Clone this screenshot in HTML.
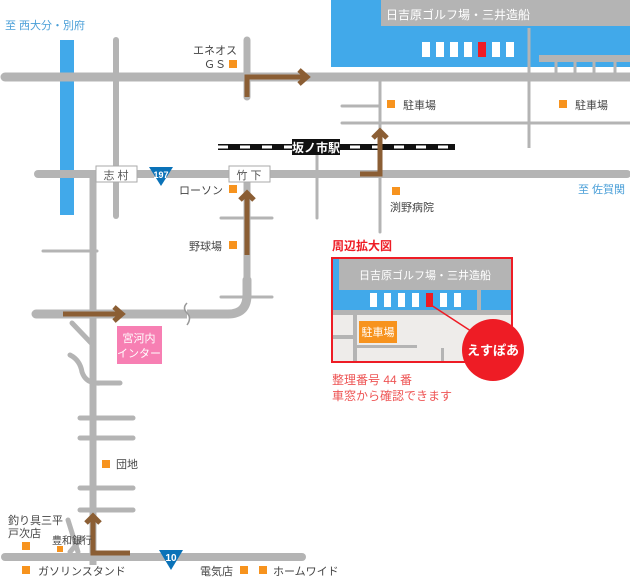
<!DOCTYPE html>
<html><head><meta charset="utf-8"><style>
body{margin:0;background:#fff}
svg text{font-family:"Liberation Sans","Noto Sans CJK JP",sans-serif}
</style></head><body>
<svg width="630" height="580" viewBox="0 0 630 580" xmlns="http://www.w3.org/2000/svg">
<rect width="630" height="580" fill="#fff"/>
<!-- sea -->
<rect x="331" y="0" width="299" height="67" fill="#41a9ea"/>
<rect x="381" y="0" width="249" height="26" fill="#b4b4b4"/>
<text x="458" y="19" font-size="12" fill="#fff" text-anchor="middle">日吉原ゴルフ場・三井造船</text>
<g fill="#fff"><rect x="422" y="42" width="8" height="15"/><rect x="436" y="42" width="8" height="15"/><rect x="450" y="42" width="8" height="15"/><rect x="464" y="42" width="8" height="15"/><rect x="492" y="42" width="8" height="15"/><rect x="506" y="42" width="8" height="15"/></g>
<rect x="478" y="42" width="8" height="15" fill="#ee1c25"/>
<line x1="529" y1="28" x2="529" y2="148" stroke="#b4b4b4" stroke-width="3"/>
<rect x="539" y="55" width="91" height="7" fill="#b4b4b4"/>
<g stroke="#b4b4b4" stroke-width="3"><line x1="556" y1="62" x2="556" y2="77"/><line x1="575" y1="62" x2="575" y2="77"/><line x1="594" y1="62" x2="594" y2="77"/><line x1="615" y1="62" x2="615" y2="77"/></g>
<!-- river -->
<rect x="60" y="40" width="14" height="175" fill="#41a9ea"/>
<!-- roads -->
<g stroke="#b4b4b4" stroke-linecap="round" fill="none">
<line x1="5" y1="77" x2="630" y2="77" stroke-width="9"/>
<line x1="38" y1="174" x2="627" y2="174" stroke-width="8"/>
<line x1="116" y1="40" x2="116" y2="216" stroke-width="6"/>
<line x1="247" y1="40" x2="247" y2="97" stroke-width="7"/>
<line x1="247" y1="174" x2="247" y2="285" stroke-width="7"/>
<path d="M36 314 H228 Q247 314 247 295 V280" stroke-width="9"/>
<line x1="93" y1="178" x2="93" y2="565" stroke-width="7" stroke-linecap="butt"/>
<line x1="5" y1="557" x2="302" y2="557" stroke-width="8"/>
<g stroke-width="3">
<line x1="380" y1="80" x2="380" y2="232"/>
<line x1="317" y1="148" x2="317" y2="218"/>
<line x1="342" y1="106" x2="380" y2="106"/>
<line x1="342" y1="123" x2="630" y2="123"/>
<line x1="43" y1="251" x2="97" y2="251"/>
<line x1="221" y1="218" x2="272" y2="218"/>
<line x1="221" y1="297" x2="272" y2="297"/>
</g>
<g stroke-width="5">
<line x1="80" y1="418" x2="133" y2="418"/>
<line x1="80" y1="438" x2="133" y2="438"/>
<line x1="80" y1="488" x2="133" y2="488"/>
<line x1="80" y1="510" x2="133" y2="510"/>
<line x1="93" y1="383" x2="120" y2="383"/>
<line x1="72" y1="323" x2="93" y2="345"/>
<path d="M70 355 Q80 360 82 372 Q86 384 100 383"/>
<line x1="68" y1="520" x2="78" y2="552"/>
<line x1="82" y1="538" x2="70" y2="552"/>
</g>
</g>
<path d="M187 303 q-5 5 0 10 q5 5 0 12" stroke="#999" stroke-width="1.5" fill="#fff"/>
<!-- railway -->
<line x1="218" y1="147" x2="455" y2="147" stroke="#111" stroke-width="6"/>
<line x1="218" y1="147" x2="455" y2="147" stroke="#fff" stroke-width="3" stroke-dasharray="10 12"/>
<rect x="292" y="139" width="48" height="16" fill="#111"/>
<text x="316" y="152" font-size="12" font-weight="bold" fill="#fff" text-anchor="middle">坂ノ市駅</text>
<!-- route badges -->
<path d="M149 167 H173 L161 186 Z" fill="#0a72b8"/>
<text x="161" y="178" font-size="9" font-weight="bold" fill="#fff" text-anchor="middle">197</text>
<path d="M159 550 H183 L171 570 Z" fill="#0a72b8"/>
<text x="171" y="561" font-size="10" font-weight="bold" fill="#fff" text-anchor="middle">10</text>
<!-- intersection labels -->
<rect x="96" y="166" width="41" height="16" fill="#fff" stroke="#aaa"/>
<text x="116" y="179" font-size="11" fill="#555" text-anchor="middle">志 村</text>
<rect x="229" y="166" width="41" height="16" fill="#fff" stroke="#aaa"/>
<text x="249" y="179" font-size="11" fill="#555" text-anchor="middle">竹 下</text>
<!-- arrows -->
<g stroke="#8b5e34" stroke-width="5" fill="none" stroke-linejoin="miter">
<path d="M247 97 V77 H305"/><path d="M299 70 L307 77 L299 84"/>
<path d="M360 174 H380 V132"/><path d="M373 138 L380 131 L387 138"/>
<path d="M247 255 V194"/><path d="M240 200 L247 193 L254 200"/>
<path d="M63 314 H121"/><path d="M114 307 L122 314 L114 321"/>
<path d="M130 553 H93 V517"/><path d="M86 523 L93 516 L100 523"/>
</g>
<!-- interchange -->
<rect x="117" y="326" width="45" height="38" fill="#f77fb3"/>
<text x="139" y="342" font-size="11" fill="#fff" text-anchor="middle">宮河内</text>
<text x="139" y="357" font-size="11" fill="#fff" text-anchor="middle">インター</text>
<!-- markers -->
<g fill="#f7931e">
<rect x="229" y="60" width="8" height="8"/>
<rect x="229" y="185" width="8" height="8"/>
<rect x="229" y="241" width="8" height="8"/>
<rect x="387" y="100" width="8" height="8"/>
<rect x="559" y="100" width="8" height="8"/>
<rect x="392" y="187" width="8" height="8"/>
<rect x="102" y="460" width="8" height="8"/>
<rect x="22" y="542" width="8" height="8"/>
<rect x="57" y="546" width="6" height="6"/>
<rect x="22" y="566" width="8" height="8"/>
<rect x="240" y="566" width="8" height="8"/>
<rect x="259" y="566" width="8" height="8"/>
</g>
<g font-size="11" fill="#444">
<text x="237" y="54" text-anchor="end">エネオス</text>
<text x="226" y="68" text-anchor="end">ＧＳ</text>
<text x="223" y="194" text-anchor="end">ローソン</text>
<text x="222" y="250" text-anchor="end">野球場</text>
<text x="403" y="109">駐車場</text>
<text x="575" y="109">駐車場</text>
<text x="390" y="211">渕野病院</text>
<text x="116" y="468">団地</text>
<text x="8" y="524">釣り具三平</text>
<text x="8" y="537">戸次店</text>
<text x="52" y="544" font-size="10">豊和銀行</text>
<text x="38" y="575">ガソリンスタンド</text>
<text x="200" y="575">電気店</text>
<text x="273" y="575">ホームワイド</text>
</g>
<text x="5" y="29" font-size="11" fill="#4a9fd8">至 西大分・別府</text>
<text x="578" y="193" font-size="11" fill="#4a9fd8">至 佐賀関</text>
<!-- inset -->
<text x="332" y="250" font-size="12" font-weight="bold" fill="#ee1c25">周辺拡大図</text>
<rect x="332" y="258" width="180" height="104" fill="#eeecea" stroke="#ee1c25" stroke-width="2"/>
<rect x="333" y="259" width="178" height="51" fill="#41a9ea"/>
<rect x="339" y="259" width="172" height="31" fill="#b4b4b4"/>
<text x="425" y="279" font-size="11" fill="#fff" text-anchor="middle">日吉原ゴルフ場・三井造船</text>
<g fill="#fff"><rect x="370" y="293" width="7" height="14"/><rect x="384" y="293" width="7" height="14"/><rect x="398" y="293" width="7" height="14"/><rect x="412" y="293" width="7" height="14"/><rect x="440" y="293" width="7" height="14"/><rect x="454" y="293" width="7" height="14"/></g>
<rect x="426" y="293" width="7" height="14" fill="#ee1c25"/>
<g fill="#b4b4b4"><rect x="333" y="310" width="178" height="5"/><rect x="477" y="290" width="4" height="20"/><rect x="353" y="315" width="4" height="46"/><rect x="333" y="335" width="20" height="4"/><rect x="357" y="345" width="60" height="3"/><rect x="441" y="348" width="3" height="13"/></g>
<rect x="359" y="321" width="38" height="22" fill="#f7931e"/>
<text x="378" y="336" font-size="11" fill="#fff" text-anchor="middle">駐車場</text>
<line x1="431" y1="305" x2="477" y2="335" stroke="#ee1c25" stroke-width="1.5"/>
<circle cx="493" cy="350" r="31" fill="#ee1c25"/>
<text x="493" y="355" font-size="13" font-weight="bold" fill="#fff" text-anchor="middle">えすぽあ</text>
<text x="332" y="384" font-size="12" fill="#ee5555">整理番号 44 番</text>
<text x="332" y="400" font-size="12" fill="#ee5555">車窓から確認できます</text>
</svg>
</body></html>
